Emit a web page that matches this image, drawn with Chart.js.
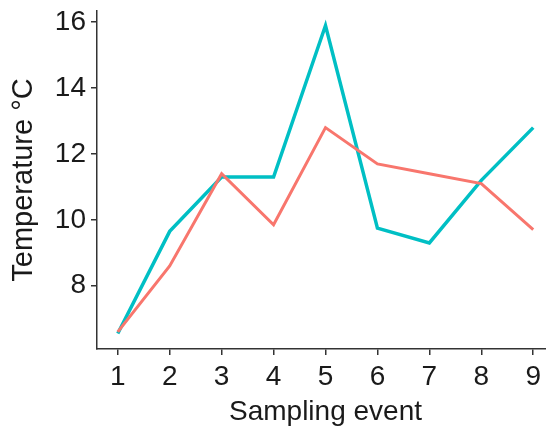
<!DOCTYPE html>
<html>
<head>
<meta charset="utf-8">
<script src="https://cdn.jsdelivr.net/npm/chart.js@4"></script>
<style>
  html, body { margin: 0; padding: 0; background: #fff; overflow: hidden; }
  #wrap { width: 560px; height: 431px; }
</style>
</head>
<body>
<div id="wrap"><canvas id="tempChart" width="560" height="431"></canvas></div>
<script>
// sampling events on the x axis
const events = [1, 2, 3, 4, 5, 6, 7, 8, 9];
// temperature readings (°C), one per event
const tempRed = [6.6, 8.6, 11.4, 9.85, 12.8, 11.7, 11.4, 11.1, 9.7];
const tempTeal = [6.55, 9.65, 11.3, 11.3, 15.9, 9.75, 9.3, 11.2, 12.8];
// y axis tick labels
const yTicks = [8, 10, 12, 14, 16];

const toPoints = (vals) => events.map((e, i) => ({ x: e, y: vals[i] }));

const axisColor = "#333333";
const family = "'Liberation Sans', Arial, sans-serif";

const ctx = document.getElementById("tempChart").getContext("2d");
new Chart(ctx, {
  type: "line",
  data: {
    datasets: [
      {
        label: "Site A",
        data: toPoints(tempRed),
        borderColor: "#F8766D",
        borderWidth: 3,
        pointRadius: 0,
        tension: 0,
        fill: false,
      },
      {
        label: "Site B",
        data: toPoints(tempTeal),
        borderColor: "#00BFC4",
        borderWidth: 3.5,
        pointRadius: 0,
        tension: 0,
        fill: false,
      },
    ],
  },
  options: {
    responsive: false,
    animation: false,
    events: [],
    layout: { padding: { top: 11, right: 6, left: 0, bottom: 0 } },
    plugins: {
      legend: { display: false },
      tooltip: { enabled: false },
    },
    scales: {
      x: {
        type: "linear",
        min: 0.6,
        max: 9.4,
        afterBuildTicks: (scale) => {
          scale.ticks = events.map((v) => ({ value: v }));
        },
        afterFit: (scale) => {
          scale.height = 82;
          scale.paddingLeft = 0;
          scale.paddingRight = 0;
        },
        grid: {
          drawOnChartArea: false,
          drawTicks: true,
          tickLength: 6,
          tickColor: axisColor,
          lineWidth: 1.5,
        },
        border: { color: axisColor, width: 1.5 },
        ticks: {
          color: "#1a1a1a",
          font: { family: family, size: 28 },
          padding: 5,
          maxRotation: 0,
          callback: (v) => String(v),
        },
        title: {
          display: true,
          text: "Sampling event",
          color: "#1a1a1a",
          font: { family: family, size: 28 },
          padding: { top: 0, bottom: 2 },
        },
      },
      y: {
        type: "linear",
        min: 6.08,
        max: 16.34,
        afterBuildTicks: (scale) => {
          scale.ticks = yTicks.map((v) => ({ value: v }));
        },
        afterFit: (scale) => {
          scale.width = 97;
          scale.paddingTop = 0;
          scale.paddingBottom = 0;
        },
        grid: {
          drawOnChartArea: false,
          drawTicks: true,
          tickLength: 6,
          tickColor: axisColor,
          lineWidth: 1.5,
        },
        border: { color: axisColor, width: 1.5 },
        ticks: {
          color: "#1a1a1a",
          font: { family: family, size: 28 },
          padding: 5,
          callback: (v) => String(v),
        },
        title: {
          display: true,
          text: "Temperature °C",
          color: "#1a1a1a",
          font: { family: family, size: 29 },
          padding: { top: 7, bottom: 0 },
        },
      },
    },
  },
});
</script>
</body>
</html>
